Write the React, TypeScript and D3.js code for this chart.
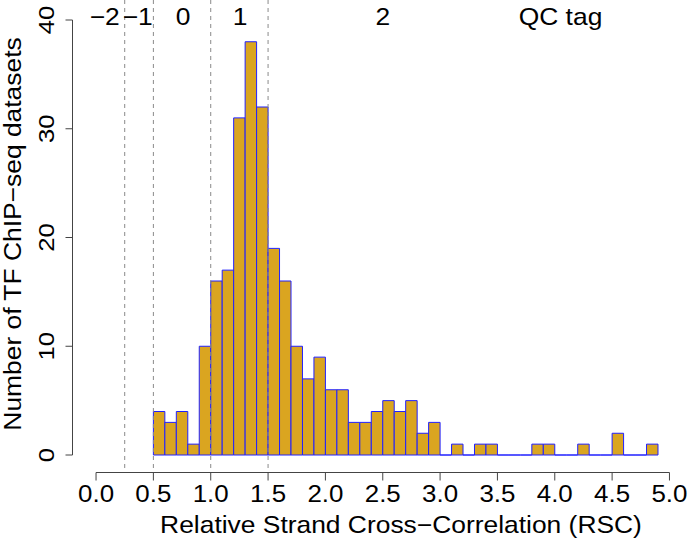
import React from "react";
import * as d3 from "d3";

const binStart = 0.5;
const binWidth = 0.1;
const counts = [
  4, 3, 4, 1, 10, 16, 17, 31, 38, 32,
  19, 16, 10, 7, 9, 6, 6, 3, 3, 4,
  5, 4, 5, 2, 3, 0, 1, 0, 1, 1,
  0, 0, 0, 1, 1, 0, 0, 1, 0, 0,
  2, 0, 0, 1,
];
const xTicks = [0, 0.5, 1, 1.5, 2, 2.5, 3, 3.5, 4, 4.5, 5];
const yTicks = [0, 10, 20, 30, 40];
const cutoffs = [0.25, 0.5, 1.0, 1.5];
const tagLabels = ["\u22122", "\u22121", "0", "1", "2", "QC tag"];
const tagPositions = [0.076, 0.363, 0.76, 1.255, 2.5, 4.05];

const W = 692;
const H = 541;
const FONT = "'Liberation Sans', Arial, Helvetica, sans-serif";
const SX = 1.1;

function T({ x, y, rot = 0, size = 24, sx = SX, children }: any) {
  return (
    <text
      transform={`translate(${x},${y}) rotate(${rot}) scale(${sx},1)`}
      textAnchor="middle"
      fontSize={size}
      fill="#000"
    >
      {children}
    </text>
  );
}

export default function App() {
  // plot region with R-style 4% padding
  const x = d3.scaleLinear().domain([-0.2, 5.2]).range([73.1, 692.4]);
  const y = d3.scaleLinear().domain([-1.6, 41.6]).range([472.4, 2.6]);

  const bars = counts.map((c, i) => {
    const x0 = binStart + i * binWidth;
    const x1 = x0 + binWidth;
    const p = d3.path();
    p.moveTo(x(x0), y(0));
    p.lineTo(x(x0), y(c));
    p.lineTo(x(x1), y(c));
    p.lineTo(x(x1), y(0));
    p.closePath();
    return p.toString();
  });

  const axisY = 472.5;
  const yAxisX = 72.5;

  return (
    <svg width={W} height={H} style={{ position: "absolute", left: 0, top: 0, fontFamily: FONT }}>
      <rect width={W} height={H} fill="white" />
      {bars.map((d, i) => (
        <path key={i} d={d} fill="#DAA520" stroke="#2020ff" strokeWidth={1} />
      ))}
      {cutoffs.map((c, i) => (
        <line
          key={i}
          x1={x(c)}
          x2={x(c)}
          y1={0}
          y2={y.range()[0]}
          stroke="#8a8a8a"
          strokeWidth={1}
          strokeDasharray="4,4"
        />
      ))}
      {tagLabels.map((t, i) => (
        <T key={i} x={x(tagPositions[i])} y={25}>
          {t}
        </T>
      ))}
      {/* x axis */}
      <line x1={x(0)} x2={x(5)} y1={axisY} y2={axisY} stroke="#444" strokeWidth={1} />
      {xTicks.map((t) => (
        <g key={t}>
          <line x1={x(t)} x2={x(t)} y1={axisY} y2={axisY + 8} stroke="#444" />
          <T x={x(t)} y={502} sx={1.08}>
            {t.toFixed(1)}
          </T>
        </g>
      ))}
      <T x={401} y={533}>
        Relative Strand Cross{"\u2212"}Correlation (RSC)
      </T>
      {/* y axis */}
      <line x1={yAxisX} x2={yAxisX} y1={y(0)} y2={y(40)} stroke="#444" />
      {yTicks.map((t) => (
        <g key={t}>
          <line x1={yAxisX - 7} x2={yAxisX} y1={y(t)} y2={y(t)} stroke="#444" />
          <T x={54} y={y(t)} rot={-90} size={23} sx={1.12}>
            {t}
          </T>
        </g>
      ))}
      <T x={21} y={234} rot={-90}>
        Number of TF ChIP{"\u2212"}seq datasets
      </T>
    </svg>
  );
}
